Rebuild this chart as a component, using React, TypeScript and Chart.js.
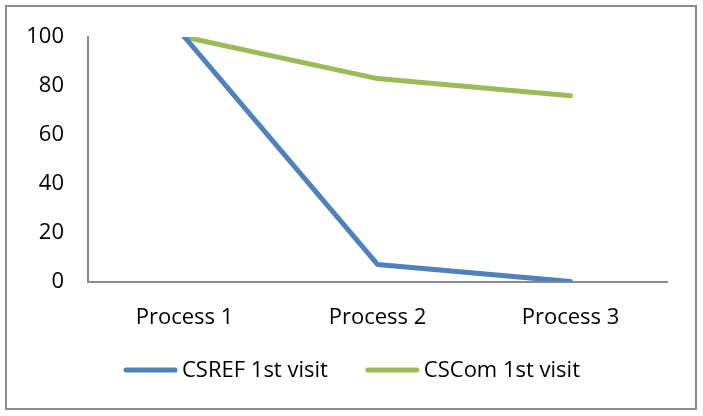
import React, { useEffect, useRef } from "react";
import { Chart, registerables } from "chart.js";

Chart.register(...registerables);

const categories = ["Process 1", "Process 2", "Process 3"];
const csrefValues = [100, 7, 0];
const cscomValues = [100, 83, 76];
const seriesNames = ["CSREF 1st visit", "CSCom 1st visit"];
const seriesColors = ["#4F81BD", "#9BBB59"];
const yTicks = [0, 20, 40, 60, 80, 100];

const FONT = "'Open Sans', 'Liberation Sans', sans-serif";
const FONT_SIZE = 22;

const borderPlugin = {
  id: "outerBorder",
  beforeDraw(chart: any) {
    const ctx = chart.ctx;
    ctx.save();
    ctx.fillStyle = "#ffffff";
    ctx.fillRect(0, 0, chart.width, chart.height);
    ctx.strokeStyle = "#8c8c8c";
    ctx.lineWidth = 2;
    ctx.strokeRect(6, 6, 690, 403);
    ctx.restore();
  },
};

const legendPlugin = {
  id: "customLegend",
  afterDraw(chart: any) {
    const ctx = chart.ctx;
    const ds = chart.data.datasets;
    ctx.save();
    ctx.font = `${FONT_SIZE}px ${FONT}`;
    ctx.textBaseline = "middle";
    ctx.textAlign = "left";
    const lineLen = 49;
    const textGap = 7;
    const itemGap = 40;
    const widths = ds.map((d: any) => lineLen + textGap + ctx.measureText(d.label).width);
    const total = widths.reduce((a: number, b: number) => a + b, 0) + itemGap * (ds.length - 1);
    let x = 353 - total / 2;
    const y = 370;
    ds.forEach((d: any, i: number) => {
      ctx.strokeStyle = d.borderColor;
      ctx.lineWidth = 5;
      ctx.lineCap = "round";
      ctx.beginPath();
      ctx.moveTo(x, y);
      ctx.lineTo(x + lineLen, y);
      ctx.stroke();
      ctx.fillStyle = "#000";
      ctx.fillText(d.label, x + lineLen + textGap, y + 1);
      x += widths[i] + itemGap;
    });
    ctx.restore();
  },
};

export default function App() {
  const ref = useRef<HTMLCanvasElement | null>(null);
  useEffect(() => {
    if (!ref.current) return;
    const chart = new Chart(ref.current, {
      type: "line",
      data: {
        labels: categories,
        datasets: [
          {
            label: seriesNames[0],
            data: csrefValues,
            borderColor: seriesColors[0],
            backgroundColor: seriesColors[0],
            borderWidth: 5,
            borderCapStyle: "round",
            borderJoinStyle: "round",
            pointRadius: 0,
            tension: 0,
          },
          {
            label: seriesNames[1],
            data: cscomValues,
            borderColor: seriesColors[1],
            backgroundColor: seriesColors[1],
            borderWidth: 5,
            borderCapStyle: "round",
            borderJoinStyle: "round",
            pointRadius: 0,
            tension: 0,
          },
        ],
      },
      options: {
        animation: false,
        responsive: false,
        maintainAspectRatio: false,
        layout: { padding: { left: 0, right: 36, top: 37, bottom: 70 } },
        plugins: {
          tooltip: { enabled: false },
          legend: { display: false },
        },
        scales: {
          x: {
            offset: true,
            grid: { display: false },
            border: { display: true, color: "#8c8c8c", width: 2 },
            ticks: {
              color: "#000",
              padding: 15,
              font: { family: FONT, size: FONT_SIZE },
              maxRotation: 0,
            },
          },
          y: {
            min: 0,
            max: 100,
            afterBuildTicks(scale: any) {
              scale.ticks = yTicks.map((v) => ({ value: v }));
            },
            grid: { display: false },
            border: { display: true, color: "#8c8c8c", width: 2 },
            ticks: {
              color: "#000",
              padding: 16,
              font: { family: FONT, size: FONT_SIZE },
            },
            afterFit(scale: any) {
              scale.width = 88;
            },
          },
        },
      },
      plugins: [borderPlugin, legendPlugin],
    });
    return () => chart.destroy();
  }, []);
  return (
    <div style={{ position: "fixed", left: 0, top: 0, width: 703, height: 416 }}>
      <canvas ref={ref} width={703} height={416} style={{ width: 703, height: 416 }} />
    </div>
  );
}
